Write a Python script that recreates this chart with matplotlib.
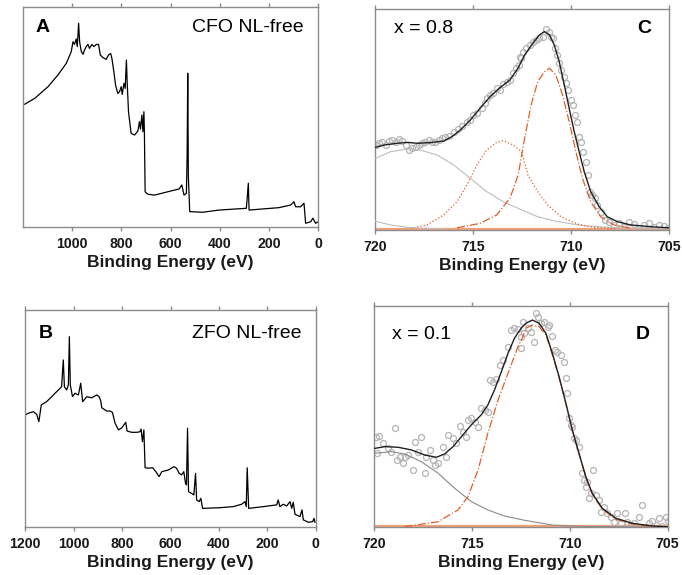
import numpy as np
import matplotlib
matplotlib.use("Agg")
import matplotlib.pyplot as plt

plt.rcParams['font.family'] = ['Liberation Sans', 'DejaVu Sans']

# survey spectra (binding energy eV, intensity a.u.)
survey_cfo = [(1192, 55.8), (1151, 58.5), (1097, 63.8), (1057, 69.1), (1023, 74.4), (1003, 79.7),
              (996, 84.2), (989.5, 83), (983, 85.5), (978.5, 82), (973, 92.6), (969, 84.2), (962, 79.7),
              (955, 78.5), (949, 80.5), (942, 82), (935, 83), (929, 81.2), (919, 83), (911, 82), (901, 83),
              (892, 83), (885, 78.2), (874, 77), (861, 76.2), (852, 78.2), (843, 78.9), (838, 76.7),
              (830, 70.6), (823, 64.5), (814, 60.7), (807, 61.5), (800, 63.8), (796, 60.3), (789, 65.3),
              (784, 63), (779, 75.9), (776, 66), (770.5, 52.4), (760, 42.6), (746, 41.8), (732.5, 43.6),
              (726, 47.9), (722, 44.5), (716, 50.9), (712, 43.3), (708, 52.4), (706, 43.3), (703, 16.0),
              (692, 14.9), (665, 14.5), (597.5, 16.4), (565, 17.3), (554, 19.1), (545, 14.5), (535.5, 15.3),
              (532.5, 32.7), (530, 69.9), (527.5, 22.9), (522, 7.0), (470.6, 6.7), (403, 7.7), (335, 8.2),
              (292, 8.5), (284, 19.9), (281, 7.7), (227, 8.2), (160, 8.8), (112, 10), (99, 11.5), (92, 9.2),
              (72, 9.2), (58, 10.8), (51.5, 1.7), (31, 2.4), (22, 4), (11, 1.7), (0.4, 2.4)]

survey_zfo = [(1200, 51.7), (1187, 52.5), (1167, 53.2), (1153, 52), (1144, 48.6), (1134, 56.3), (1112, 57.8),
              (1091, 60.1), (1077, 61.7), (1063, 63.2), (1050, 64.7), (1043, 77), (1038.5, 64.7), (1029, 63.2),
              (1022, 65.5), (1018, 87.7), (1014, 65.5), (1005, 60.1), (994.6, 61.7), (980.6, 60.9), (971, 66.3),
              (963, 57.8), (946, 60.1), (925.5, 59.6), (905, 60.9), (895, 60.1), (888, 58.1), (884, 55),
              (863.5, 53.5), (850, 53.5), (840, 52.9), (829, 47.9), (815, 44.8), (801, 45.8), (785, 48.3),
              (779.5, 44.3), (760, 43.7), (739, 43.7), (725.6, 44), (721.5, 45.2), (716, 39.4), (710, 44.8),
              (705, 27.4), (691, 27.2), (674, 27.4), (660.7, 25.6), (647, 23.3), (636, 25.6), (608, 26.4),
              (586, 27.9), (575, 27.2), (564, 24.8), (554, 24.1), (545, 25.6), (538, 20.2), (534, 19.5),
              (529.6, 45.6), (525.5, 16.4), (513, 15.6), (503.5, 14.9), (496.5, 24.8), (492, 12.6),
              (481.6, 11.8), (474.5, 13.3), (467.5, 8.7), (396, 9), (341, 9.5), (306, 10.6), (292.5, 11.8),
              (287, 9.5), (283, 27.4), (277, 8.7), (217, 9.5), (161, 10.3), (155, 12.6), (148, 9.5),
              (134, 10.6), (120, 9.8), (106, 11.8), (99, 8.7), (92.7, 11.5), (85.6, 6), (65, 4.9),
              (56.7, 8), (51, 3.4), (30.6, 2.3), (12.4, 2.6), (7, 4.1), (3, 2.3)]

survey_ticks_a = [1000, 800, 600, 400, 200, 0]
survey_ticks_b = [1200, 1000, 800, 600, 400, 200, 0]
fe_ticks = [720, 715, 710, 705]

# Fe 2p3/2, x = 0.8
c_points = [(719.98, 38.5), (719.82, 39.3), (719.65, 40.0), (719.48, 38.5), (719.31, 40.3), (719.14, 40.8),
            (718.97, 40.0), (718.80, 41.2), (718.63, 40.3), (718.46, 38.5), (718.29, 36.2), (718.12, 37.0),
            (717.95, 37.7), (717.78, 38.5), (717.61, 39.3), (717.44, 40.0), (717.27, 40.8), (717.10, 40.0),
            (716.93, 39.7), (716.77, 40.8), (716.6, 41.5), (716.43, 42.3), (716.26, 42.7), (716.0, 44.5),
            (715.8, 45.8), (715.58, 47.3), (715.33, 49.1), (715.16, 49.8), (714.99, 52.1), (714.82, 52.9),
            (714.56, 55.1), (714.39, 57.4), (714.27, 59.7), (714.14, 61.2), (713.97, 61.9), (713.8, 64.2),
            (713.63, 63.4), (713.49, 66.0), (713.29, 66.9), (713.12, 67.9), (712.95, 71.0), (712.82, 73.2),
            (712.65, 74.8), (712.58, 77.8), (712.63, 78.5), (712.46, 80.8), (712.29, 82.3), (712.12, 83.8),
            (711.95, 85.3), (711.78, 86.1), (711.61, 86.9), (711.44, 87.6), (711.28, 91.1), (711.1, 89.8),
            (711.02, 87.6), (710.94, 86.9), (710.82, 82.3), (710.72, 79.3), (710.6, 75.5), (710.51, 72.5),
            (710.38, 69.5), (710.26, 66.5), (710.14, 63.4), (710.0, 58.9), (709.92, 56.6), (709.8, 52.1),
            (709.7, 49.1), (709.58, 42.3), (709.5, 40.0), (709.36, 35.5), (709.24, 31.0), (709.12, 24.9),
            (709.02, 17.4), (708.9, 15.9), (708.78, 14.4), (708.65, 11.3), (708.44, 8.3), (708.28, 4.5),
            (708.05, 3.8), (707.8, 2.3), (707.54, 3.0), (707.29, 1.5), (707.04, 3.8), (706.78, 2.6),
            (706.53, 1.0), (706.27, 2.3), (706.02, 3.0), (705.77, 1.5), (705.51, 2.3), (705.26, 2.0),
            (705.05, 1.0)]
c_envelope = [(720.07, 37.3), (719.56, 38.5), (718.88, 39.3), (718.37, 39.7), (717.86, 39.3), (717.19, 39.6),
              (716.51, 40.3), (716.09, 42.3), (715.66, 45.3), (715.15, 49.8), (714.65, 55.1), (714.14, 60.4),
              (713.63, 64.5), (713.12, 68.0), (712.71, 73.3), (712.37, 79.3), (711.95, 84.6), (711.61, 88.4),
              (711.36, 89.9), (711.1, 88.4), (710.85, 83.8), (710.6, 76.3), (710.34, 65.7), (710.09, 55.1),
              (709.83, 44.5), (709.58, 35.5), (709.32, 26.4), (708.99, 17.4), (708.56, 10.6), (708.14, 6.0),
              (707.63, 3.8), (706.95, 2.3), (705.94, 1.5), (705.0, 1.0)]
c_satellite = [(720.07, 32.2), (719.22, 35.5), (718.37, 36.7), (717.7, 36.2), (716.85, 34.0), (716.0, 29.5),
               (715.15, 23.4), (714.31, 17.4), (713.46, 12.8), (712.7, 9.8), (711.7, 6.0), (710.68, 3.8),
               (709.32, 1.9), (707.63, 1.0), (705.0, 0.8)]
c_tail = [(720.07, 4.1), (719.22, 2.3), (718.37, 1.2), (717.53, 0.8), (716.5, 0.5)]
c_fe3 = [(718.2, 0.8), (717.36, 2.3), (716.51, 6.8), (715.83, 12.8), (715.32, 20.4), (714.81, 29.5),
         (714.31, 36.2), (713.8, 39.7), (713.46, 40.5), (712.95, 38.5), (712.53, 35.5), (712.2, 24.9),
         (711.7, 17.4), (711.19, 11.3), (710.51, 6.0), (709.66, 2.7), (708.82, 1.2), (707.63, 0.5)]
c_fe2 = [(715.83, 1.0), (714.65, 3.0), (713.8, 6.8), (713.12, 14.4), (712.7, 24.9), (712.37, 41.5),
         (712.04, 56.6), (711.7, 67.2), (711.36, 71.7), (711.1, 73.3), (710.77, 70.2), (710.43, 61.2),
         (710.09, 49.1), (709.75, 35.5), (709.41, 23.4), (708.99, 12.8), (708.48, 6.0), (707.8, 2.3),
         (706.95, 0.8)]

# Fe 2p3/2, x = 0.1
d_points = [(719.93, 40.6), (719.76, 41.2), (719.88, 33.4), (719.54, 37.9), (719.29, 35.6), (719.12, 34.1),
            (718.95, 44.9), (718.86, 30.4), (718.69, 31.9), (718.52, 28.9), (718.44, 31.9), (718.27, 32.6),
            (718.01, 25.9), (717.93, 38.6), (717.76, 34.1), (717.59, 40.9), (717.42, 24.4), (717.33, 31.9),
            (717.16, 34.9), (716.99, 30.4), (716.91, 28.1), (716.74, 28.9), (716.48, 36.4), (716.31, 31.9),
            (716.23, 41.7), (715.97, 40.2), (715.8, 37.9), (715.63, 45.7), (715.46, 43.1), (715.29, 40.6),
            (715.21, 48.4), (715.04, 49.2), (714.87, 47.7), (714.7, 45.4), (714.53, 53.7), (714.36, 52.9),
            (714.19, 52.2), (714.1, 66.5), (713.93, 65.7), (713.76, 66.8), (713.59, 73.2), (713.42, 75.5),
            (713.16, 81.5), (712.99, 89.0), (712.83, 89.8), (712.65, 89.3), (712.49, 86.0), (712.4, 92.8),
            (712.5, 80.8), (712.33, 87.5), (712.16, 89.8), (711.99, 88.3), (711.82, 83.8), (711.73, 96.6),
            (711.65, 95.0), (711.48, 92.1), (711.31, 92.8), (711.14, 90.5), (711.06, 91.3), (710.89, 86.3),
            (710.75, 80.0), (710.63, 79.2), (710.46, 77.8), (710.29, 74.7), (710.2, 67.2), (710.12, 60.5),
            (710.04, 49.2), (709.95, 46.2), (709.87, 45.4), (709.78, 40.2), (709.69, 39.4), (709.53, 36.4),
            (709.36, 24.4), (709.27, 21.3), (709.18, 18.3), (709.1, 20.6), (709.01, 13.1), (708.93, 15.3),
            (708.81, 25.9), (708.67, 14.6), (708.5, 12.3), (708.42, 7.0), (708.25, 9.3), (708.08, 6.3),
            (707.91, 4.8), (707.74, 2.5), (707.57, 6.3), (707.4, 1.8), (707.18, 6.6), (707.06, 2.5),
            (706.89, 1.0), (706.72, 2.1), (706.46, 4.8), (706.3, 10.1), (706.12, 0.3), (705.95, 1.8),
            (705.79, 3.0), (705.61, 1.0), (705.44, 4.1), (705.28, 0.6), (705.1, 4.8), (704.97, 3.0)]
d_envelope = [(719.97, 35.6), (719.46, 36.4), (718.78, 36.1), (718.1, 34.9), (717.42, 32.6), (716.82, 31.6),
              (716.4, 33.1), (715.97, 36.4), (715.54, 40.9), (715.04, 46.2), (714.53, 50.7), (714.19, 55.2),
              (713.85, 62.0), (713.5, 70.2), (713.16, 78.5), (712.83, 85.3), (712.49, 89.8), (712.24, 92.1),
              (711.91, 93.5), (711.57, 92.1), (711.22, 87.5), (710.89, 78.5), (710.55, 68.0), (710.2, 56.0),
              (709.87, 43.9), (709.53, 33.4), (709.18, 22.8), (708.85, 15.3), (708.34, 8.6), (707.65, 4.1),
              (706.81, 1.8), (705.79, 0.6), (704.97, 0.2)]
d_satellite = [(719.97, 33.4), (719.12, 34.1), (718.44, 33.1), (717.59, 29.6), (716.74, 24.4), (715.89, 17.6),
               (715.04, 11.6), (714.19, 7.8), (713.34, 5.1), (712.4, 3.3), (710.89, 1.0), (709.18, 0.3),
               (705.0, 0.1)]
d_fe2 = [(718.44, 0.3), (716.74, 2.5), (715.72, 7.8), (715.21, 13.8), (714.69, 25.9), (714.19, 42.4),
         (713.67, 57.4), (713.16, 69.5), (712.65, 81.5), (712.4, 86.0), (712.24, 89.8), (711.91, 91.3),
         (711.57, 90.5), (711.22, 86.8), (710.89, 77.7), (710.55, 67.7), (710.2, 55.7), (709.87, 43.6),
         (709.53, 33.1), (709.18, 22.5), (708.85, 15.0), (708.34, 8.1), (707.65, 3.6), (706.81, 1.5),
         (705.79, 0.3)]

orange = '#e0602a'
grey_pts = '#b4b4b4'
frame = '#8c8c8c'

fig = plt.figure(figsize=(6.82, 5.75), dpi=100)
ax_a = fig.add_axes([0.0333, 0.6052, 0.4334, 0.3826])
ax_b = fig.add_axes([0.0371, 0.0830, 0.4258, 0.3779])
ax_c = fig.add_axes([0.5505, 0.6000, 0.4300, 0.3838])
ax_d = fig.add_axes([0.5488, 0.0830, 0.4300, 0.3854])


def style(ax, ticks, xlim):
    ax.set_xlim(*xlim)
    ax.set_ylim(0, 100)
    ax.set_xticks(ticks)
    ax.set_yticks([])
    for s in ax.spines.values():
        s.set_color(frame)
        s.set_linewidth(1.0)
    ax.tick_params(axis='x', direction='out', length=3, width=1, color=frame,
                   top=True, labeltop=False, pad=4, labelsize=10.2)
    for lab in ax.get_xticklabels():
        lab.set_fontweight('bold')
        lab.set_color('#1a1a1a')
    ax.set_xlabel('Binding Energy (eV)', fontsize=12.5, fontweight='bold',
                  color='#1a1a1a', labelpad=3)


def curve(ax, pts, **kw):
    arr = np.array(pts)
    ax.plot(arr[:, 0], arr[:, 1], **kw)


# survey panels
curve(ax_a, survey_cfo, color='black', lw=0.9)
style(ax_a, survey_ticks_a, (1200, 0))
ax_a.text(0.042, 0.905, 'A', transform=ax_a.transAxes, fontsize=14, fontweight='bold', va='center')
ax_a.text(0.952, 0.905, 'CFO NL-free', transform=ax_a.transAxes, fontsize=14, ha='right', va='center')

curve(ax_b, survey_zfo, color='black', lw=0.9)
style(ax_b, survey_ticks_b, (1200, 0))
ax_b.text(0.045, 0.89, 'B', transform=ax_b.transAxes, fontsize=14, fontweight='bold', va='center')
ax_b.text(0.952, 0.89, 'ZFO NL-free', transform=ax_b.transAxes, fontsize=14, ha='right', va='center')

# Fe 2p panels
for ax, pts, env, sat, comps, lbl, tag, ty in [
        (ax_c, c_points, c_envelope, c_satellite, [(c_fe3, ':'), (c_fe2, '-.')], 'x = 0.8', 'C', 0.914),
        (ax_d, d_points, d_envelope, d_satellite, [(d_fe2, '-.')], 'x = 0.1', 'D', 0.868)]:
    ax.axhline(0.4, color='#f2a07a', lw=1.6, zorder=1)
    arr = np.array(pts)
    ax.plot(arr[:, 0], arr[:, 1], 'o', mfc='none', mec=grey_pts, ms=4.3, mew=0.9, zorder=2)
    curve(ax, sat, color='#bdbdbd' if ax is ax_c else '#8a8a8a', lw=0.8, zorder=3)
    for comp, ls in comps:
        curve(ax, comp, color=orange, lw=0.9, ls=ls, zorder=3)
    curve(ax, env, color='#202020', lw=1.0, zorder=4)
    style(ax, fe_ticks, (720, 705))
    ax.text(0.062, ty, lbl, transform=ax.transAxes, fontsize=14, va='center')
    ax.text(0.94, ty, tag, transform=ax.transAxes, fontsize=14, fontweight='bold', ha='right', va='center')

curve(ax_c, c_tail, color='#bdbdbd', lw=0.8, zorder=3)

fig.savefig('out.png', dpi=100)
